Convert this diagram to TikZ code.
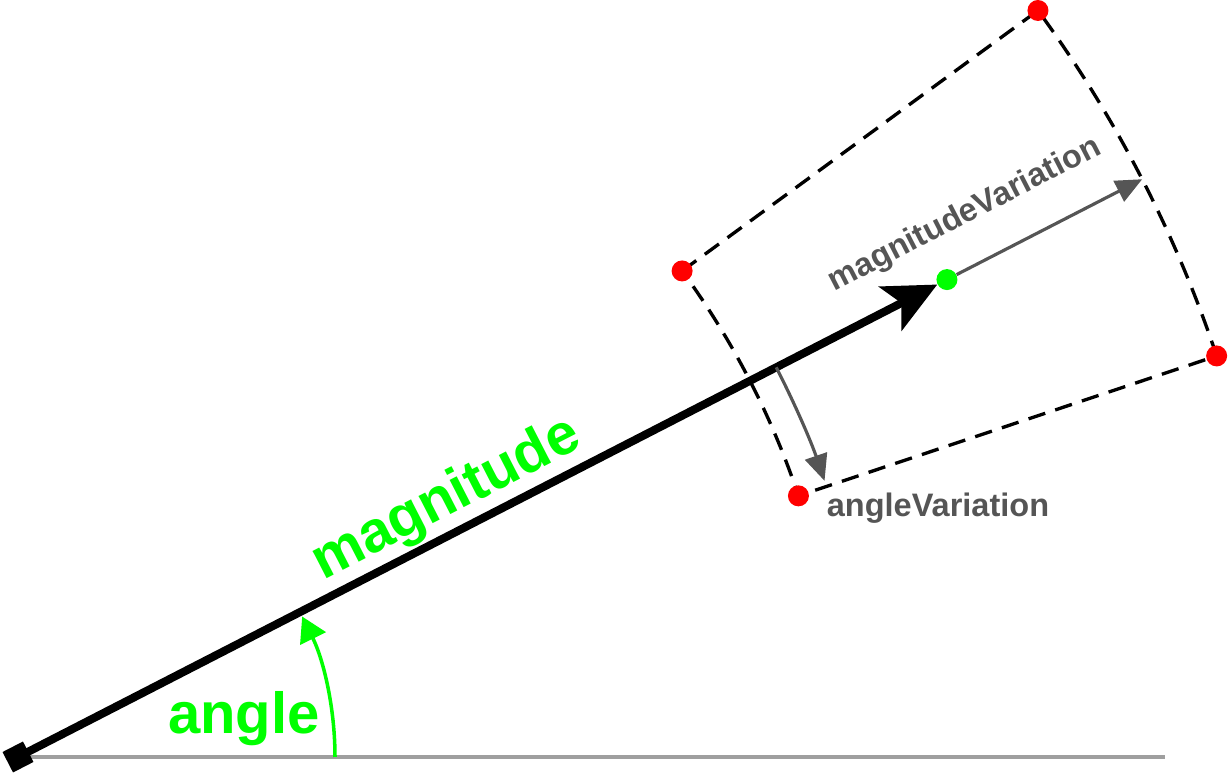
\documentclass[tikz,border=0pt]{standalone}
\usepackage{fontspec}
\setmainfont{Liberation Sans}
\usetikzlibrary{arrows.meta}
\definecolor{brightgreen}{RGB}{0,255,0}
\definecolor{vargray}{RGB}{85,85,85}

\begin{document}
\begin{tikzpicture}[
    dot/.style={circle, fill=#1, inner sep=0pt, minimum size=0.42cm},
    dashbox/.style={black, line width=1.9pt, dash pattern=on 10pt off 6pt},
    vararrow/.style={vargray, line width=1.8pt, -{Triangle[length=15pt,width=13pt]}},
    biglabel/.style={font=\bfseries\fontsize{33}{40}\selectfont, text=brightgreen},
    smalllabel/.style={font=\bfseries\fontsize{18.5}{22}\selectfont, text=vargray}
]
    \useasboundingbox (-0.36,-0.4) rectangle (24.2,15.14);

    % Baseline through the origin
    \coordinate (baseend) at (22.94,0);
    \draw[line width=2pt, gray!75] (0,0) -- (baseend);

    % Dashed region: radial sides, arcs at both radii
    \draw[dashbox] (36.2:16.46) -- (36.2:25.28)
        arc[start angle=36.2, end angle=18.5, radius=25.28]
        -- (18.5:16.46)
        arc[start angle=18.5, end angle=36.2, radius=16.46];

    % Corner and tip dots
    \node[dot=red] (innertop) at (36.2:16.46) {};
    \node[dot=red] (outertop) at (36.2:25.28) {};
    \node[dot=red] (outerbot) at (18.5:25.28) {};
    \node[dot=red] (innerbot) at (18.5:16.46) {};
    \node[dot=brightgreen] (tip) at (27.2:20.89) {};

    % Origin marker and main vector
    \node[fill=black, minimum size=0.46cm, inner sep=0pt, rotate=27.2] (origin) at (0,0) {};
    \draw[line width=4.6pt, -{Stealth[length=30pt,width=28pt,inset=7pt]}] (origin.center) -- (tip);

    % Angle arc
    \draw[brightgreen, line width=2pt, -{Triangle[length=14pt,width=16pt]}]
        (6.34,0) arc[start angle=0, end angle=26.3, radius=6.34];

    % Variations
    \coordinate (outermid) at (27.2:25.28);
    \draw[vararrow] (tip) -- (outermid);
    \coordinate (anglestart) at (27.2:17.05);
    \draw[vararrow] (anglestart) arc[start angle=27.2, end angle=18.9, radius=17.05];

    % Labels
    \node[biglabel, rotate=27.2] (maglabel) at (8.58,5.14) {magnitude};
    \node[biglabel] (anglelabel) at (4.52,0.76) {angle};
    \node[smalllabel, rotate=27.2] (magvarlabel) at (18.94,10.84) {magnitudeVariation};
    \node[smalllabel] (anglevarlabel) at (18.4,4.98) {angleVariation};
\end{tikzpicture}
\end{document}
